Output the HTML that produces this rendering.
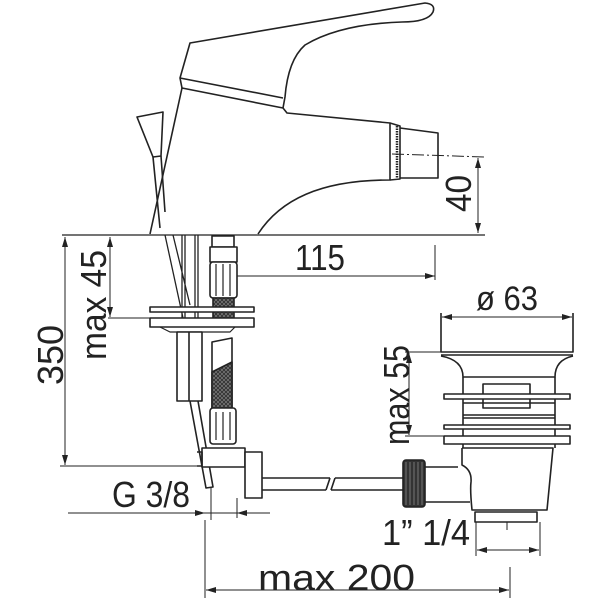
<!DOCTYPE html>
<html><head><meta charset="utf-8"><style>
html,body{margin:0;padding:0;background:#fff}
svg{display:block}
text{font-family:"Liberation Sans",sans-serif;fill:#222}
</style></head><body>
<svg width="600" height="600" viewBox="0 0 600 600" xmlns="http://www.w3.org/2000/svg">
<defs>
<marker id="a" viewBox="0 0 10 6" refX="10" refY="3" markerWidth="10" markerHeight="6" orient="auto-start-reverse" markerUnits="userSpaceOnUse"><path d="M0,0L10,3L0,6z" fill="#222"/></marker>
<pattern id="h" width="4" height="4" patternUnits="userSpaceOnUse"><rect width="4" height="4" fill="#333"/><path d="M0,4L4,0M0,0L4,4" stroke="#888" stroke-width="0.6"/></pattern>
</defs>
<g fill="none" stroke="#222" stroke-width="1.6" stroke-linejoin="round">
<path d="M150,234 L182,88 L283,108 L287,113 L390,123 L390,180 C320,180 280,200 258,234" fill="#fff"/>
<path d="M182,88 L180,78 L190,43 L425,3 Q436,4 433,12 Q428,22 402,22 Q340,24 305,45 Q288,60 285,97 L283,108"/>
<path d="M180,78 L283,98"/>
<path d="M390,123 L400,126 L400,179 L390,180"/>
<path d="M400,128 L438,133 L438,178 L400,178"/>
<path d="M397,126 L397,178" stroke-width="2.5" stroke-dasharray="1.5 1"/>
<path d="M137,117 L163,112 L161,156 L153,157 Z" fill="#fff"/>
<path d="M153,157 L160,228 M161,156 L165,212"/>
<path d="M62,235 L485,235" stroke-width="1.3"/>
<path d="M392,154 L485,157" stroke-width="1" stroke-dasharray="12 3 2 3"/>
<path d="M478,158 L478,233" stroke-width="1" marker-start="url(#a)" marker-end="url(#a)"/>
<path d="M435,245 L435,280 M212,276 L434,276" stroke-width="1" />
<path d="M300,276 L435,276" stroke-width="1" marker-end="url(#a)"/>
<path d="M65,237 L65,465" stroke-width="1" marker-start="url(#a)" marker-end="url(#a)"/>
<path d="M60,466 L205,466" stroke-width="1"/>
<path d="M110,237 L110,317" stroke-width="1" marker-start="url(#a)" marker-end="url(#a)"/>
<path d="M108,318 L250,318" stroke-width="1"/>
<path d="M165,235 L183,318 M173,235 L190,305 M182,235 L182,318 M185,235 L185,318 M195,235 L195,318 M198,235 L198,318" stroke-width="1.3"/>
<rect x="212" y="236" width="22" height="11" fill="#fff"/>
<rect x="210" y="247" width="27" height="15" fill="#fff"/>
<rect x="210" y="262" width="27" height="36" rx="3" fill="#fff"/>
<path d="M216,264 L216,296 M223,264 L223,296 M230,264 L230,296" stroke-width="1.2"/>
<rect x="213" y="298" width="21" height="20" fill="url(#h)"/>
<rect x="150" y="307" width="104" height="5" fill="#fff"/>
<rect x="150" y="318" width="104" height="9" fill="#fff"/>
<path d="M160,327 L170,332 L230,332 L235,327" stroke-width="1.2"/>
<rect x="177" y="332" width="25" height="69" fill="#fff"/>
<path d="M189,332 L189,401"/>
<path d="M190,401 L206,488 L213,487 L198,401"/>
<path d="M212,342 L232,338 L232,408 L212,408 Z" fill="#fff"/>
<path d="M212,372 L232,362 L232,408 L212,408 Z" fill="url(#h)"/>
<rect x="210" y="408" width="26" height="36" rx="3" fill="#fff"/>
<path d="M216,412 L216,440 M223,412 L223,440 M230,412 L230,440" stroke-width="1.2"/>
<rect x="202" y="448" width="43" height="19" fill="#fff"/>
<path d="M197,452 L202,452 L202,466 L197,466"/>
<rect x="245" y="452" width="17" height="46" fill="#fff"/>
<path d="M262,478 L330,478 M262,490 L326,490 M330,478 L326,490 M335,478 L331,490 M335,478 L404,478 M331,490 L404,490"/>
<path d="M68,513 L270,513" stroke-width="1"/>
<path d="M185,513 L205,513" stroke-width="1" marker-end="url(#a)"/>
<path d="M257,513 L237,513" stroke-width="1" marker-end="url(#a)"/>
<path d="M211,488 L211,520 M237,498 L237,518" stroke-width="1"/>
<path d="M441,313 L441,352 L573,352 L573,313" fill="#fff"/>
<path d="M441,355 L573,355"/>
<path d="M441,356 Q463,360 463,377 L555,377 Q555,360 573,356"/>
<path d="M463,377 L463,448 M555,377 L555,448"/>
<rect x="483" y="384" width="47" height="24" fill="#fff"/>
<rect x="444" y="394" width="126" height="5" fill="#fff"/>
<path d="M463,403 L555,403 M463,415 L555,415 M463,418 L555,418"/>
<rect x="444" y="425" width="126" height="4" fill="#fff"/>
<rect x="444" y="436" width="126" height="8" fill="#fff"/>
<path d="M462,448 L553,448 L547,510 L472,510 Q470,490 471,482 Q472,470 462,465 L462,448" fill="#fff"/>
<path d="M425,467 L458,467 M425,502 L470,502"/>
<rect x="403" y="460" width="22" height="47" rx="3" fill="#333"/>
<path d="M406,462 L406,505 M410,462 L410,505 M414,462 L414,505 M418,462 L418,505 M422,462 L422,505" stroke="#888" stroke-width="0.8"/>
<rect x="475" y="512" width="62" height="10" fill="#fff"/>
<path d="M442,317 L572,317" stroke-width="1" marker-start="url(#a)" marker-end="url(#a)"/>
<path d="M405,352 L441,352 M405,436 L444,436" stroke-width="1"/>
<path d="M409,353 L409,435" stroke-width="1" marker-start="url(#a)" marker-end="url(#a)"/>
<path d="M476,522 L476,556 M540,522 L540,556 M507,522 L507,530" stroke-width="1"/>
<path d="M477,550 L539,550" stroke-width="1" marker-start="url(#a)" marker-end="url(#a)"/>
<path d="M205,520 L205,598 M510,567 L510,598" stroke-width="1"/>
<path d="M206,590 L509,590" stroke-width="1" marker-start="url(#a)" marker-end="url(#a)"/>
</g>
<g font-size="36" lengthAdjust="spacingAndGlyphs">
<text x="295" y="270" textLength="50" lengthAdjust="spacingAndGlyphs">115</text>
<text transform="translate(471,212) rotate(-90)" textLength="37" lengthAdjust="spacingAndGlyphs">40</text>
<text transform="translate(63,385) rotate(-90)" textLength="60" lengthAdjust="spacingAndGlyphs">350</text>
<text transform="translate(106,360) rotate(-90)" textLength="110" lengthAdjust="spacingAndGlyphs">max 45</text>
<text x="476" y="310" font-size="34" textLength="62" lengthAdjust="spacingAndGlyphs">ø 63</text>
<text transform="translate(409,445) rotate(-90)" textLength="100" lengthAdjust="spacingAndGlyphs">max 55</text>
<text x="112" y="507" textLength="78" lengthAdjust="spacingAndGlyphs">G 3/8</text>
<text x="382" y="545" textLength="88" lengthAdjust="spacingAndGlyphs">1” 1/4</text>
<text x="258" y="590" textLength="157" lengthAdjust="spacingAndGlyphs">max 200</text>
</g>
</svg>
</body></html>
